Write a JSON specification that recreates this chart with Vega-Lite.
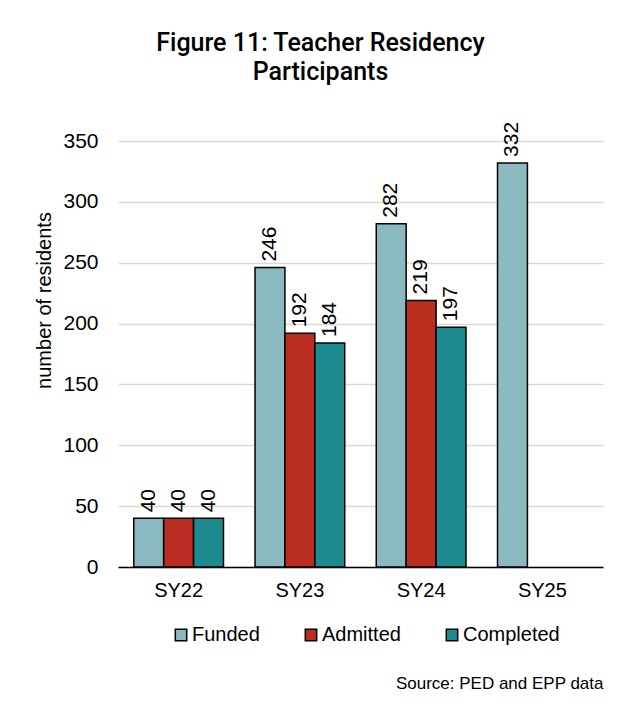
{
  "$schema": "https://vega.github.io/schema/vega-lite/v6.json",
  "width": 485,
  "height": 426,
  "autosize": {"type": "none"},
  "padding": {"left": 118, "top": 141, "right": 26, "bottom": 145},
  "background": "white",
  "title": {
    "text": ["Figure 11: Teacher Residency", "Participants"],
    "font": "Roboto",
    "fontSize": 25,
    "fontWeight": 500,
    "color": "black",
    "anchor": "middle",
    "frame": "group",
    "dx": -40,
    "offset": 37,
    "lineHeight": 29
  },
  "config": {
    "font": "Liberation Sans",
    "view": {"stroke": null}
  },
  "data": {
    "values": [
      {"year": "SY22", "group": "Funded", "residents": 40},
      {"year": "SY22", "group": "Admitted", "residents": 40},
      {"year": "SY22", "group": "Completed", "residents": 40},
      {"year": "SY23", "group": "Funded", "residents": 246},
      {"year": "SY23", "group": "Admitted", "residents": 192},
      {"year": "SY23", "group": "Completed", "residents": 184},
      {"year": "SY24", "group": "Funded", "residents": 282},
      {"year": "SY24", "group": "Admitted", "residents": 219},
      {"year": "SY24", "group": "Completed", "residents": 197},
      {"year": "SY25", "group": "Funded", "residents": 332}
    ]
  },
  "encoding": {
    "x": {
      "field": "year",
      "type": "nominal",
      "sort": ["SY22", "SY23", "SY24", "SY25"],
      "scale": {"paddingInner": 0.26, "paddingOuter": 0.13},
      "axis": {
        "labelAngle": 0,
        "labelFontSize": 20,
        "labelColor": "black",
        "labelPadding": 13,
        "ticks": false,
        "domainColor": "black",
        "domainWidth": 1.5,
        "title": "Source: PED and EPP data",
        "titleFontSize": 17,
        "titleFontWeight": "normal",
        "titleColor": "black",
        "titleAnchor": "end",
        "titlePadding": 75
      }
    },
    "xOffset": {
      "field": "group",
      "type": "nominal",
      "sort": ["Funded", "Admitted", "Completed"],
      "scale": {"paddingInner": 0, "paddingOuter": 0}
    },
    "y": {
      "field": "residents",
      "type": "quantitative",
      "scale": {"domain": [0, 350], "nice": false},
      "axis": {
        "values": [0, 50, 100, 150, 200, 250, 300, 350],
        "domain": false,
        "ticks": false,
        "gridColor": "#d9d9d9",
        "gridWidth": 1.5,
        "labelFontSize": 21,
        "labelColor": "black",
        "labelPadding": 20,
        "title": "number of residents",
        "titleFontSize": 20,
        "titleFontWeight": "normal",
        "titleColor": "black",
        "titleAngle": -90,
        "titleAlign": "center",
        "titleBaseline": "middle",
        "titleX": -74,
        "titleY": 159
      }
    }
  },
  "layer": [
    {
      "mark": {"type": "bar", "stroke": "black", "strokeWidth": 1.5},
      "encoding": {
        "color": {
          "field": "group",
          "type": "nominal",
          "sort": ["Funded", "Admitted", "Completed"],
          "scale": {
            "domain": ["Funded", "Admitted", "Completed"],
            "range": ["#8ab9bf", "#b92e20", "#1d8a8f"]
          },
          "legend": {
            "orient": "none",
            "direction": "horizontal",
            "legendX": 53,
            "legendY": 484,
            "title": null,
            "symbolType": "square",
            "symbolSize": 130,
            "symbolStrokeColor": "black",
            "symbolStrokeWidth": 1.5,
            "labelFontSize": 20,
            "labelColor": "black",
            "labelOffset": 1,
            "columnPadding": 41
          }
        }
      }
    },
    {
      "mark": {
        "type": "text",
        "angle": 270,
        "align": "left",
        "baseline": "middle",
        "dx": 6,
        "fontSize": 21,
        "color": "black"
      },
      "encoding": {
        "text": {"field": "residents", "type": "quantitative"}
      }
    }
  ]
}
